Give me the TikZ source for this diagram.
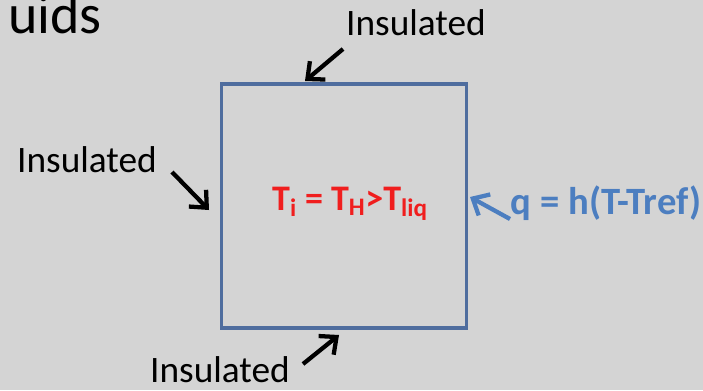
\documentclass[tikz,border=0pt]{standalone}
\usepackage{fontspec}
\setmainfont{Carlito}
\usepackage{xcolor}
\usetikzlibrary{arrows.meta, positioning}
\definecolor{bggray}{RGB}{212,212,212}
\definecolor{boxblue}{RGB}{79,109,158}
\definecolor{fluxblue}{RGB}{76,126,192}
\definecolor{hotred}{RGB}{240,30,30}

\begin{document}
\begin{tikzpicture}[
    x=0.75pt, y=-0.75pt,
    label/.style={font=\fontsize{28}{30}\selectfont, inner sep=0pt},
    arrow/.style={-{Straight Barb[length=10pt, width=18pt]}, line width=3.2pt, draw=black},
]
    \useasboundingbox[fill=bggray] (0,0) rectangle (703,390);

    \node[anchor=base west, font=\fontsize{42}{46}\selectfont, inner sep=0pt] (title) at (8,33) {uids};

    \node[draw=boxblue, line width=2.5pt, minimum width=245*0.75pt, minimum height=244*0.75pt, inner sep=0pt] (domain) at (344,206) {};
    \node[font=\bfseries\fontsize{27}{30}\selectfont, text=hotred, inner sep=0pt] (temp) at (350,204) {T\textsubscript{i} = T\textsubscript{H}>T\textsubscript{liq}};

    \node[label] (top) at (416,23) {Insulated};
    \node[label] (left) at (87,160) {Insulated};
    \node[label] (bottom) at (220,370) {Insulated};
    \node[label, font=\bfseries\fontsize{29}{32}\selectfont, text=fluxblue] (flux) at (606,203) {q = h(T-Tref)};

    % arrow ends
    \coordinate (ta) at (343,49);
    \coordinate (tb) at (305,81);
    \coordinate (la) at (172,172);
    \coordinate (lb) at (209,210);
    \coordinate (ba) at (303,364);
    \coordinate (bb) at (339,335);
    \coordinate (fa) at (510,219);
    \coordinate (fb) at (470,197);

    \draw[arrow] (ta) -- (tb);
    \draw[arrow] (la) -- (lb);
    \draw[arrow] (ba) -- (bb);
    \draw[arrow, draw=fluxblue] (fa) -- (fb);
\end{tikzpicture}
\end{document}
